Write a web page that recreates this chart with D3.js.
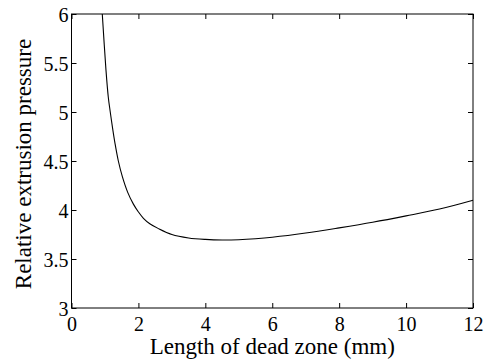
<!DOCTYPE html>
<html><head><meta charset="utf-8">
<script src="https://cdn.jsdelivr.net/npm/d3@7"></script>
<style>body{margin:0;background:#fff}</style>
</head><body>
<svg id="c" width="489" height="360"></svg>
<script>
const lengthMm = [0.92,1.03,1.10,1.15,1.23,1.30,1.40,1.52,1.68,1.85,2.0,2.15,2.34,2.60,3.0,3.5,4.0,4.5,5.0,5.5,6.0,7.0,8.0,9.0,10.0,11.0,12.0];
const pressure = [6.0,5.43,5.15,5.02,4.83,4.68,4.50,4.34,4.18,4.06,3.98,3.915,3.86,3.81,3.75,3.715,3.70,3.694,3.697,3.707,3.722,3.765,3.818,3.875,3.94,4.01,4.10];
const xTicks = [0,2,4,6,8,10,12];
const yTicks = [3,3.5,4,4.5,5,5.5,6];
const xLabel = "Length of dead zone (mm)";
const yLabel = "Relative extrusion pressure";

const svg = d3.select("#c");
const L=71.5, R=473, T=14, B=308;
const x = d3.scaleLinear().domain([0,12]).range([L,R]);
const y = d3.scaleLinear().domain([3,6]).range([B,T]);
const font = "Liberation Serif";

const pts = lengthMm.map((d,i)=>[d,pressure[i]]);
svg.append("path").datum(pts)
 .attr("d", d3.line().x(d=>x(d[0])).y(d=>y(d[1])).curve(d3.curveCatmullRom.alpha(0.5)))
 .attr("fill","none").attr("stroke","#000").attr("stroke-width",1.1);

const ax = (gen, tr) => {
  const a = svg.append("g").attr("transform",tr).call(gen);
  a.select(".domain").remove();
  a.selectAll("line").attr("stroke","#000");
  a.selectAll("text").attr("font-family",font).attr("font-size",20).attr("fill","#000");
  return a;
};
ax(d3.axisBottom(x).tickValues(xTicks).tickSize(-5).tickPadding(9).tickFormat(d3.format("d")), `translate(0,${B})`);
ax(d3.axisTop(x).tickValues(xTicks).tickSize(-5).tickFormat(""), `translate(0,${T})`);
const yl = ax(d3.axisLeft(y).tickValues(yTicks).tickSize(-5).tickPadding(3).tickFormat(d=>String(d)), `translate(${L},0)`);
ax(d3.axisRight(y).tickValues(yTicks).tickSize(-5).tickFormat(""), `translate(${R},0)`);
yl.selectAll("text").attr("dy","0.36em");

svg.append("rect").attr("x",L).attr("y",T).attr("width",R-L).attr("height",B-T)
  .attr("fill","none").attr("stroke","#000").attr("stroke-width",1);

svg.append("text").attr("x",(L+R)/2).attr("y",354).attr("text-anchor","middle")
  .attr("font-family",font).attr("font-size",23).text(xLabel);
svg.append("text").attr("transform",`translate(31,164) rotate(-90)`).attr("text-anchor","middle")
  .attr("font-family",font).attr("font-size",23).text(yLabel);
</script>
</body></html>
